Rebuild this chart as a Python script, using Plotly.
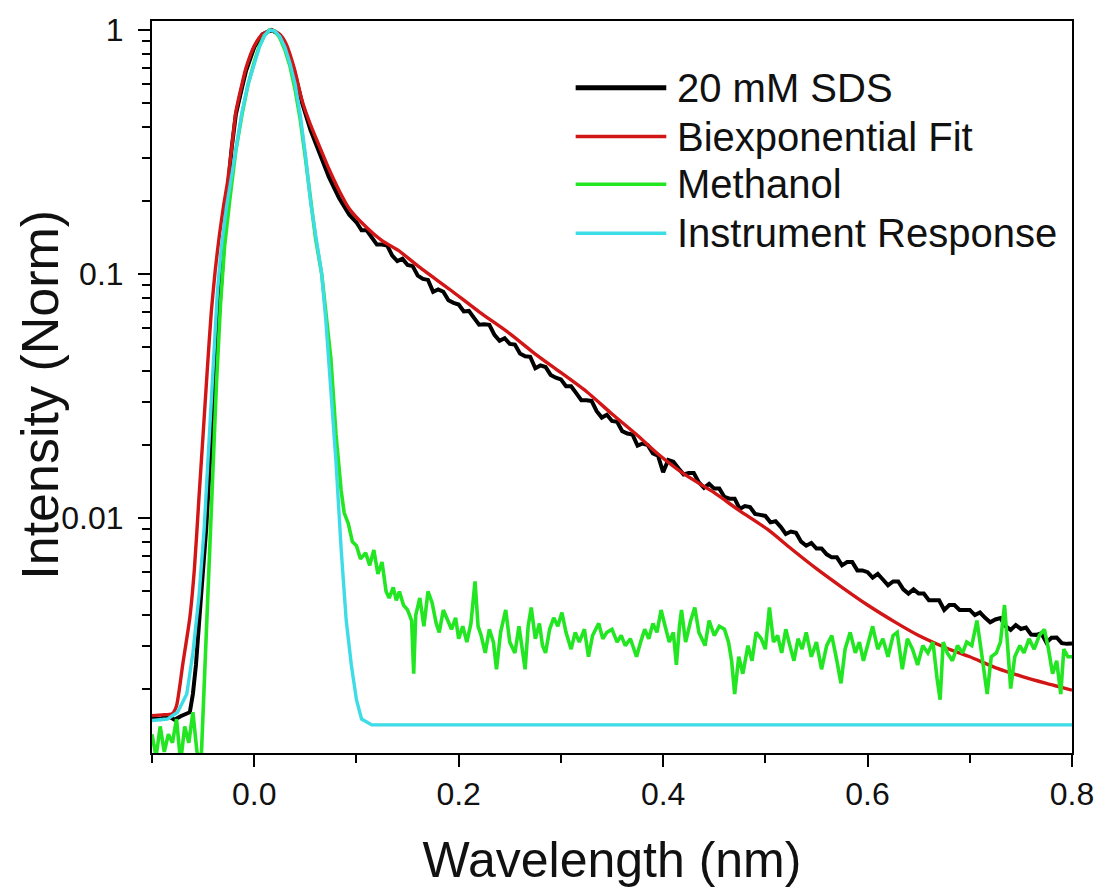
import plotly.graph_objects as go

# ---------------- data ----------------
sds_x = [-0.100, -0.092, -0.085, -0.078, -0.072, -0.066, -0.063, -0.060, -0.057, -0.052,
         -0.047, -0.044, -0.040, -0.036, -0.032, -0.028, -0.026, -0.022, -0.018, -0.012,
         -0.008, 0.000, 0.008, 0.017, 0.024, 0.031, 0.039, 0.047, 0.055, 0.063, 0.073,
         0.083, 0.093]
sds_y = [0.00152, 0.00150, 0.00155, 0.00149, 0.00154, 0.00158, 0.0016, 0.0019, 0.0025, 0.0048,
         0.009, 0.015, 0.030, 0.055, 0.095, 0.17, 0.22, 0.33, 0.45, 0.58,
         0.68, 0.85, 0.96, 1.0, 0.96, 0.86, 0.68, 0.50, 0.39, 0.32, 0.25,
         0.205, 0.175]
sds_tail_x = [round(0.100 + 0.005 * i, 3) for i in range(141)]
sds_tail_y = [0.163, 0.151, 0.151, 0.141, 0.132, 0.132, 0.131, 0.119, 0.113, 0.1156,
              0.1089, 0.1077, 0.0985, 0.0955, 0.0946, 0.0846, 0.0864, 0.0846, 0.0781, 0.0762,
              0.0750, 0.0703, 0.0706, 0.0661, 0.0620, 0.0623, 0.0619, 0.0563, 0.0533, 0.0546,
              0.0517, 0.0514, 0.0472, 0.0460, 0.0458, 0.0411, 0.0422, 0.0416, 0.0386, 0.0376,
              0.0370, 0.0347, 0.0347, 0.0325, 0.0304, 0.0304, 0.0302, 0.0274, 0.0258, 0.0265,
              0.0250, 0.0248, 0.0227, 0.0222, 0.0220, 0.0198, 0.0202, 0.0199, 0.0184, 0.0180,
              0.0154, 0.0173, 0.0170, 0.0160, 0.0151, 0.0153, 0.0153, 0.0140, 0.0133, 0.0138,
              0.0132, 0.0132, 0.0122, 0.0120, 0.0120, 0.0109, 0.0112, 0.0111, 0.0104, 0.0103,
              0.0102, 0.0096, 0.0097, 0.0092, 0.0086, 0.0088, 0.0087, 0.0080, 0.0077, 0.0079,
              0.0075, 0.0075, 0.0071, 0.0069, 0.0069, 0.0064, 0.0066, 0.0066, 0.0061, 0.0061,
              0.0060, 0.0057, 0.0059, 0.0056, 0.0053, 0.0055, 0.0055, 0.0051, 0.0049, 0.0051,
              0.0049, 0.0049, 0.0046, 0.0046, 0.0046, 0.0042, 0.0044, 0.0044, 0.0042, 0.0042,
              0.0042, 0.0040, 0.0041, 0.0039, 0.00374, 0.00384, 0.00389, 0.00361, 0.00348, 0.00364,
              0.00351, 0.00356, 0.00333, 0.00332, 0.00337, 0.00309, 0.00323, 0.00324, 0.00307, 0.00305,
              0.00306]

fit_x = [-0.100, -0.090, -0.080, -0.076, -0.070, -0.063, -0.0585, -0.054, -0.050, -0.046,
         -0.042, -0.038, -0.034, -0.030, -0.026, -0.022, -0.018, -0.012, -0.008, 0.000,
         0.008, 0.017, 0.025, 0.031, 0.039, 0.047, 0.055, 0.063, 0.073, 0.083,
         0.093, 0.110, 0.125, 0.141, 0.160, 0.192, 0.220, 0.250, 0.275, 0.298,
         0.325, 0.350, 0.375, 0.395, 0.420, 0.450, 0.475, 0.502, 0.525, 0.550,
         0.575, 0.600, 0.629, 0.650, 0.680, 0.700, 0.727, 0.750, 0.775, 0.800]
fit_y = [0.00155, 0.00156, 0.00158, 0.0017, 0.0025, 0.0039, 0.0062, 0.0122, 0.022, 0.040,
         0.070, 0.105, 0.145, 0.19, 0.24, 0.33, 0.46, 0.60, 0.70, 0.86,
         0.96, 1.0, 0.96, 0.88, 0.70, 0.51, 0.41, 0.34, 0.27, 0.22,
         0.185, 0.155, 0.137, 0.125, 0.108, 0.086, 0.070, 0.057, 0.047, 0.040,
         0.033, 0.0267, 0.0218, 0.0183, 0.0152, 0.0127, 0.0107, 0.0090, 0.0075, 0.0062,
         0.0052, 0.0044, 0.0037, 0.0033, 0.0029, 0.0027, 0.00242, 0.00225, 0.0021, 0.00197]

meoh_x = [-0.100, -0.096, -0.092, -0.088, -0.084, -0.080, -0.076, -0.072, -0.068, -0.064,
          -0.060, -0.056, -0.052, -0.050, -0.047, -0.044, -0.041, -0.037, -0.033, -0.029,
          -0.024, -0.018, -0.012, -0.006, 0.000, 0.005, 0.010, 0.015, 0.020, 0.025,
          0.030, 0.035, 0.040, 0.045, 0.050, 0.055, 0.060, 0.066, 0.070, 0.075,
          0.080, 0.085, 0.088, 0.092, 0.096, 0.100, 0.104, 0.109, 0.113, 0.117,
          0.121, 0.125, 0.129, 0.132, 0.136, 0.139, 0.142, 0.146, 0.150, 0.154,
          0.156, 0.158, 0.162, 0.166, 0.170, 0.174, 0.178, 0.181, 0.185, 0.189,
          0.193, 0.197, 0.200, 0.204, 0.208, 0.212, 0.216, 0.219, 0.222, 0.226,
          0.230, 0.234, 0.237, 0.241, 0.246, 0.250, 0.255, 0.259, 0.262, 0.265,
          0.268, 0.271, 0.275, 0.279, 0.282, 0.285, 0.289, 0.293, 0.297, 0.301,
          0.305, 0.310, 0.314, 0.318, 0.323, 0.327, 0.331, 0.337, 0.341, 0.345,
          0.350, 0.355, 0.359, 0.363, 0.368, 0.374, 0.378, 0.382, 0.386, 0.390,
          0.394, 0.398, 0.402, 0.406, 0.410, 0.413, 0.416, 0.418, 0.422, 0.427,
          0.431, 0.435, 0.441, 0.445, 0.450, 0.455, 0.460, 0.464, 0.467, 0.470,
          0.474, 0.478, 0.483, 0.487, 0.491, 0.496, 0.500, 0.504, 0.508, 0.512,
          0.516, 0.520, 0.524, 0.528, 0.532, 0.536, 0.540, 0.545, 0.550, 0.555,
          0.560, 0.565, 0.570, 0.574, 0.578, 0.583, 0.588, 0.592, 0.596, 0.600,
          0.605, 0.610, 0.615, 0.620, 0.625, 0.629, 0.634, 0.639, 0.644, 0.649,
          0.654, 0.659, 0.664, 0.668, 0.671, 0.674, 0.678, 0.683, 0.688, 0.693,
          0.697, 0.702, 0.707, 0.711, 0.714, 0.717, 0.721, 0.726, 0.730, 0.734,
          0.737, 0.740, 0.744, 0.749, 0.753, 0.758, 0.763, 0.768, 0.773, 0.777,
          0.781, 0.785, 0.789, 0.792, 0.796, 0.800]
meoh_y = [0.0013, 0.00105, 0.0014, 0.0011, 0.0013, 0.0012, 0.0015, 0.0010, 0.0014, 0.0012,
          0.0016, 0.0011, 0.0010, 0.0016, 0.003, 0.007, 0.0145, 0.035, 0.075, 0.13,
          0.20, 0.32, 0.45, 0.60, 0.74, 0.86, 0.95, 1.0, 0.99, 0.93,
          0.83, 0.71, 0.57, 0.43, 0.30, 0.20, 0.14, 0.10, 0.07, 0.045,
          0.022, 0.013, 0.0105, 0.0095, 0.0080, 0.0077, 0.0068, 0.0072, 0.0064, 0.0074,
          0.0059, 0.0066, 0.0050, 0.0047, 0.0052, 0.0046, 0.0050, 0.0044, 0.0042, 0.0038,
          0.0023, 0.0040, 0.0047, 0.0036, 0.0050, 0.0045, 0.0037, 0.0034, 0.0042, 0.0038,
          0.0035, 0.0039, 0.0032, 0.0036, 0.0031, 0.0037, 0.0055, 0.0036, 0.0033, 0.0028,
          0.0035, 0.0031, 0.0024, 0.0034, 0.0042, 0.0031, 0.0028, 0.0036, 0.0030, 0.0024,
          0.0036, 0.0043, 0.0032, 0.0037, 0.0030, 0.0028, 0.0035, 0.0039, 0.0036, 0.0041,
          0.0034, 0.0029, 0.0034, 0.0031, 0.0035, 0.0027, 0.0033, 0.0037, 0.0032, 0.0034,
          0.0035, 0.0031, 0.0033, 0.0030, 0.0032, 0.0027, 0.0031, 0.0035, 0.0032, 0.0037,
          0.0034, 0.0042, 0.0036, 0.0031, 0.0034, 0.0025, 0.0036, 0.0042, 0.0031, 0.0038,
          0.0043, 0.0034, 0.0030, 0.0038, 0.0033, 0.0036, 0.0035, 0.0031, 0.0026, 0.0019,
          0.0027, 0.0023, 0.0030, 0.0026, 0.0034, 0.0032, 0.0029, 0.0043, 0.0031, 0.0033,
          0.0028, 0.0035, 0.0030, 0.0026, 0.0032, 0.0029, 0.0034, 0.0027, 0.0031, 0.0024,
          0.0030, 0.0033, 0.0026, 0.0021, 0.0029, 0.0034, 0.0028, 0.0031, 0.0026, 0.0030,
          0.0036, 0.0029, 0.0032, 0.0027, 0.0033, 0.0034, 0.0024, 0.0032, 0.0029, 0.0025,
          0.0030, 0.0028, 0.0031, 0.0022, 0.0018, 0.0031, 0.0028, 0.0026, 0.0030, 0.0028,
          0.0031, 0.0030, 0.0038, 0.0029, 0.0023, 0.0019, 0.0027, 0.0028, 0.0031, 0.0044,
          0.0030, 0.0020, 0.0027, 0.0030, 0.0028, 0.0032, 0.0029, 0.0033, 0.0035, 0.0029,
          0.0023, 0.0026, 0.0019, 0.0029, 0.0027, 0.0027]

irf_x = [-0.100, -0.085, -0.075, -0.066, -0.060, -0.054, -0.049, -0.044, -0.040, -0.036,
         -0.032, -0.027, -0.021, -0.016, -0.012, -0.006, 0.000, 0.005, 0.010, 0.015,
         0.020, 0.025, 0.030, 0.035, 0.040, 0.045, 0.050, 0.055, 0.060, 0.066,
         0.070, 0.075, 0.080, 0.085, 0.090, 0.095, 0.100, 0.105, 0.115, 0.800]
irf_y = [0.00148, 0.0015, 0.0016, 0.0019, 0.0028, 0.0048, 0.009, 0.022, 0.045, 0.085,
         0.13, 0.19, 0.27, 0.36, 0.46, 0.60, 0.73, 0.85, 0.95, 1.0,
         0.99, 0.94, 0.85, 0.73, 0.60, 0.45, 0.31, 0.20, 0.145, 0.10,
         0.065, 0.035, 0.017, 0.0075, 0.0038, 0.0025, 0.0018, 0.0015, 0.00142, 0.00142]

series_names = ["20 mM SDS", "Biexponential Fit", "Methanol", "Instrument Response"]
series_colors = ["#000000", "#D21515", "#22E622", "#3EDCE6"]

x_ticks = [0.0, 0.2, 0.4, 0.6, 0.8]
y_ticks = [0.01, 0.1, 1]
y_tick_text = ["0.01", "0.1", "1"]

FONT = "Arial, 'Liberation Sans', sans-serif"
TXT = "#111111"

fig = go.Figure()
fig.add_trace(go.Scatter(x=sds_x + sds_tail_x, y=sds_y + sds_tail_y, mode="lines",
                         name=series_names[0], line=dict(color=series_colors[0], width=4)))
fig.add_trace(go.Scatter(x=fit_x, y=fit_y, mode="lines", name=series_names[1],
                         line=dict(color=series_colors[1], width=3.4, shape="spline",
                                   smoothing=0.6)))
fig.add_trace(go.Scatter(x=meoh_x, y=meoh_y, mode="lines", name=series_names[2],
                         line=dict(color=series_colors[2], width=3.6)))
fig.add_trace(go.Scatter(x=irf_x, y=irf_y, mode="lines", name=series_names[3],
                         line=dict(color=series_colors[3], width=3.4)))

# manual legend (long line samples like the original)
leg_rows = [0.9088, 0.8422, 0.7769, 0.7102]
leg_widths = [5, 3.5, 3.5, 3.5]
for name, col, yy, w in zip(series_names, series_colors, leg_rows, leg_widths):
    fig.add_shape(type="line", xref="paper", yref="paper", x0=0.4605, x1=0.5590,
                  y0=yy, y1=yy, line=dict(color=col, width=w))
    fig.add_annotation(xref="paper", yref="paper", x=0.5688, y=yy, text=name,
                       showarrow=False, xanchor="left", yanchor="middle",
                       font=dict(family=FONT, size=40, color=TXT))

# y-axis title (placed like the original, overlapping the tick-label column)
fig.add_annotation(xref="paper", yref="paper", x=-0.1213, y=0.49, text="Intensity (Norm)",
                   textangle=-90, showarrow=False, xanchor="center", yanchor="middle",
                   font=dict(family=FONT, size=52, color=TXT))

minor_vals = [m * 10 ** e for e in (-3, -2, -1) for m in range(2, 10)]

fig.update_layout(
    width=1106, height=890,
    margin=dict(l=152, r=31, t=20, b=135),
    paper_bgcolor="white", plot_bgcolor="white",
    showlegend=False,
    font=dict(family=FONT, color=TXT),
    xaxis=dict(
        range=[-0.1, 0.8], tickmode="array", tickvals=x_ticks,
        ticktext=[f"{v:.1f}" for v in x_ticks],
        ticks="outside", ticklen=12, tickwidth=2, tickcolor="black",
        minor=dict(ticks="outside", ticklen=8, tickwidth=2, tickcolor="black",
                   tickmode="linear", tick0=0.1, dtick=0.2, showgrid=False),
        showline=True, linewidth=2, linecolor="black", mirror=True,
        showgrid=False, zeroline=False,
        tickfont=dict(size=32, family=FONT, color=TXT),
        title=dict(text="Wavelength (nm)", font=dict(size=50, family=FONT, color=TXT),
                   standoff=31),
    ),
    yaxis=dict(
        type="log", range=[-2.963, 0.037], tickmode="array", tickvals=y_ticks,
        ticktext=y_tick_text,
        ticks="outside", ticklen=12, tickwidth=2, tickcolor="black",
        ticklabelstandoff=8,
        minor=dict(ticks="outside", ticklen=8, tickwidth=2, tickcolor="black",
                   tickmode="array", tickvals=minor_vals, showgrid=False),
        showline=True, linewidth=2, linecolor="black", mirror=True,
        showgrid=False, zeroline=False,
        tickfont=dict(size=32, family=FONT, color=TXT),
    ),
)

fig.write_html("out.html", config={"displayModeBar": False},
               post_script="document.body.style.margin='0px';")
